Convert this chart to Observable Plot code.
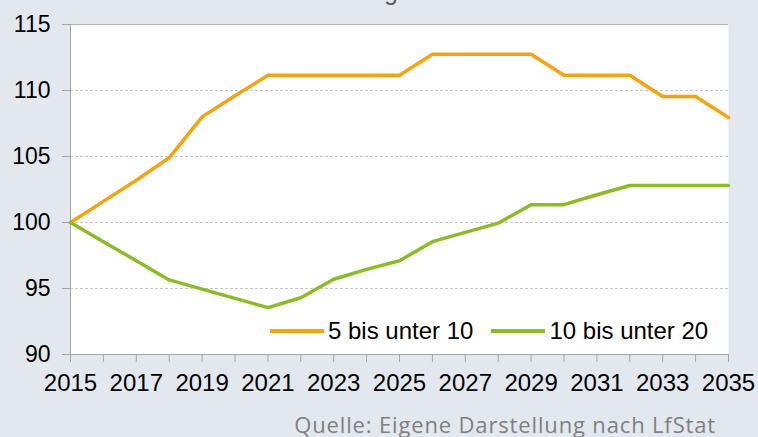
<!DOCTYPE html>
<html><head><meta charset="utf-8">
<script src="https://cdn.jsdelivr.net/npm/d3@7"></script>
<script src="https://cdn.jsdelivr.net/npm/@observablehq/plot@0.6"></script>
<style>
html,body{margin:0;padding:0;background:#e3e8ef;width:758px;height:437px;overflow:hidden;}
#wrap{position:relative;width:758px;height:437px;}
#title{position:absolute;left:384px;top:-21px;font:25px/25px "Liberation Sans",Arial,sans-serif;color:#606060;white-space:nowrap;}
#legend{position:absolute;left:270px;top:317px;font:24px "Liberation Sans",Arial,sans-serif;color:#000;display:flex;align-items:center;white-space:nowrap;}
#legend .sw{display:inline-block;width:54px;height:4px;margin-right:4px;}
#legend .item{display:flex;align-items:center;}
#caption{position:absolute;right:42px;top:413px;font:22px/22px "Open Sans",sans-serif;letter-spacing:0.85px;color:#808080;white-space:nowrap;}
svg{display:block;}
</style></head>
<body><div id="wrap"><div id="title">g</div><div id="chart"></div><div id="legend"></div><div id="caption"></div></div>
<script>
const years = [2015,2016,2017,2018,2019,2020,2021,2022,2023,2024,2025,2026,2027,2028,2029,2030,2031,2032,2033,2034,2035];
const series1 = [100,101.6,103.2,104.9,108.0,109.6,111.15,111.15,111.15,111.15,111.15,112.75,112.75,112.75,112.75,111.15,111.15,111.15,109.55,109.55,107.95];
const series2 = [100,98.55,97.1,95.65,94.95,94.25,93.55,94.3,95.7,96.45,97.1,98.55,99.25,99.95,101.35,101.35,102.1,102.8,102.8,102.8,102.8];
const seriesNames = ["5 bis unter 10","10 bis unter 20"];
const colors = ["#f7a30a","#8bbd23"];
const yTicks = [90,95,100,105,110,115];
const yGrid = [95,100,105,110];
const xTickLabels = [2015,2017,2019,2021,2023,2025,2027,2029,2031,2033,2035];
const captionText = "Quelle: Eigene Darstellung nach LfStat";

const data = years.flatMap((yr,i)=>[
  {year:yr,value:series1[i],s:seriesNames[0]},
  {year:yr,value:series2[i],s:seriesNames[1]}
]);

const chart = Plot.plot({
  width:758, height:400,
  marginTop:24, marginBottom:46, marginLeft:70, marginRight:30,
  style:{background:"transparent", fontFamily:"'Liberation Sans', Arial, sans-serif", fontSize:"23px", color:"#000", overflow:"visible"},
  x:{domain:[2015,2035]},
  y:{domain:[90,115]},
  color:{domain:seriesNames, range:colors},
  marks:[
    Plot.frame({fill:"white", stroke:null}),
    Plot.gridY(yGrid, {stroke:"#c8c8c8", strokeOpacity:1, strokeDasharray:"3,2"}),
    Plot.ruleY([115], {stroke:"#b8b8b8"}),
    Plot.axisY(yTicks, {tickSize:8, tickPadding:12, stroke:"#a6a6a6", fill:"#000", fontSize:23, label:null}),
    Plot.ruleX([2015], {stroke:"#a6a6a6"}),
    Plot.ruleY([90], {stroke:"#a6a6a6"}),
    Plot.axisX(years, {tickSize:8, tickFormat:()=>"", stroke:"#a6a6a6", label:null}),
    Plot.axisX(xTickLabels, {tickSize:0, tickPadding:19, tickFormat:d=>String(d), fill:"#000", fontSize:24, label:null}),
    Plot.line(data, {x:"year", y:"value", z:"s", stroke:"s", strokeWidth:3.5, strokeLinejoin:"round"})
  ]
});
document.getElementById("chart").appendChild(chart);

const legend = document.getElementById("legend");
seriesNames.forEach((n,i)=>{
  const it = document.createElement("span");
  it.className="item";
  if(i>0) it.style.marginLeft="18px";
  const sw = document.createElement("span");
  sw.className="sw"; sw.style.background=colors[i];
  const t = document.createElement("span"); t.textContent=n;
  it.appendChild(sw); it.appendChild(t);
  legend.appendChild(it);
});
document.getElementById("caption").textContent = captionText;
</script></body></html>
